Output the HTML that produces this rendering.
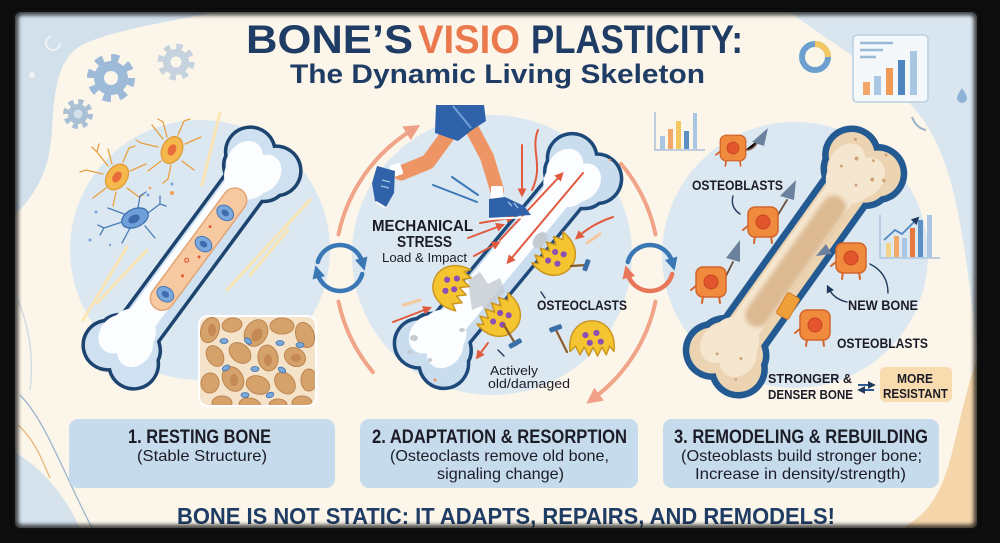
<!DOCTYPE html>
<html><head><meta charset="utf-8">
<style>
html,body{margin:0;padding:0;background:#0e0e0e;width:1000px;height:543px;overflow:hidden;}
svg{display:block;}
text{font-family:"Liberation Sans",Arial,sans-serif;}
</style></head><body>
<svg width="1000" height="543" viewBox="0 0 1000 543" xmlns="http://www.w3.org/2000/svg" xmlns:xlink="http://www.w3.org/1999/xlink">
<defs>
 <clipPath id="frame"><rect x="15" y="12" width="962" height="516" rx="6"/></clipPath>
 <clipPath id="inset"><rect x="200" y="317" width="115" height="88" rx="8"/></clipPath>
 <filter id="blur" x="-5%" y="-5%" width="110%" height="110%"><feGaussianBlur stdDeviation="2.5"/></filter>
 <filter id="soft" x="-20%" y="-20%" width="140%" height="140%"><feGaussianBlur stdDeviation="2"/></filter>
 <marker id="mRed" viewBox="0 0 10 10" refX="4" refY="5" markerWidth="9" markerHeight="9" markerUnits="userSpaceOnUse" orient="auto"><path d="M0,0 L10,5 L0,10 z" fill="#e25a3e"/></marker>
 <marker id="mOr" viewBox="0 0 10 10" refX="4" refY="5" markerWidth="16" markerHeight="16" markerUnits="userSpaceOnUse" orient="auto"><path d="M0,0 L10,5 L0,10 z" fill="#f0a088"/></marker>
 <marker id="mBlue" viewBox="0 0 10 10" refX="3" refY="5" markerWidth="13" markerHeight="13" markerUnits="userSpaceOnUse" orient="auto"><path d="M0,0 L10,5 L0,10 z" fill="#3a78b5"/></marker>
 <marker id="mOr2" viewBox="0 0 10 10" refX="3" refY="5" markerWidth="13" markerHeight="13" markerUnits="userSpaceOnUse" orient="auto"><path d="M0,0 L10,5 L0,10 z" fill="#e8775a"/></marker>
 <marker id="mNavy" viewBox="0 0 10 10" refX="4" refY="5" markerWidth="8" markerHeight="8" markerUnits="userSpaceOnUse" orient="auto"><path d="M0,0 L10,5 L0,10 z" fill="#1f3a5c"/></marker>
 <g id="boneS">
  <rect x="-112" y="-21" width="224" height="42"/>
  <ellipse cx="-106" cy="0" rx="24" ry="32"/>
  <ellipse cx="106" cy="0" rx="24" ry="32"/>
  <circle cx="-120" cy="-16" r="23"/>
  <circle cx="-120" cy="16" r="23"/>
  <circle cx="120" cy="-16" r="23"/>
  <circle cx="120" cy="16" r="23"/>
 </g>
 <g id="clast">
  <path d="M-20,6 C-22,-14 -10,-22 0,-22 C10,-22 22,-14 20,6 L16,1 L13,9 L9,2 L5,10 L1,2 L-3,10 L-7,2 L-11,9 L-15,1 Z" fill="#f4c431" stroke="#c9931f" stroke-width="1.3" stroke-linejoin="round"/>
  <circle cx="-6" cy="-9" r="2.8" fill="#8c4fb3"/>
  <circle cx="4" cy="-11" r="2.8" fill="#8c4fb3"/>
  <circle cx="-2" cy="-2" r="2.8" fill="#8c4fb3"/>
  <circle cx="8" cy="-3" r="2.8" fill="#8c4fb3"/>
 </g>
 <g id="blast">
  <path d="M-8,14 L-9,21 M8,14 L9,21 M-14,3 L-20,8" stroke="#d2652a" stroke-width="2" fill="none" stroke-linecap="round"/>
  <rect x="-15" y="-15" width="30" height="30" rx="7" fill="#f08a3d" stroke="#d2652a" stroke-width="1.5"/>
  <circle r="7" fill="#e3552d" stroke="#c74621" stroke-width="1"/>
 </g>
</defs>

<rect width="1000" height="543" fill="#0e0e0e"/>
<g clip-path="url(#frame)">
 <rect x="0" y="0" width="1000" height="543" fill="#fbf5ea"/>
 <!-- background blobs -->
 <path d="M15,12 H215 C170,22 110,30 80,46 C58,60 54,90 52,130 C50,165 40,190 15,215 Z" fill="#d2e0eb"/>
 <path d="M790,12 H977 V340 C966,270 962,190 932,134 C902,80 842,52 790,12 Z" fill="#dae6ef"/>
 <path d="M15,452 C40,468 62,490 80,528 H15 Z" fill="#d5e2ec"/>
 <path d="M977,360 C962,400 957,440 947,470 C937,500 925,515 903,528 H977 Z" fill="#f5d6ab"/>
 <path d="M20,395 C45,420 62,470 92,528" stroke="#9db6cc" stroke-width="1.3" fill="none"/>
 <path d="M18,425 C35,440 42,460 50,478" stroke="#e8b878" stroke-width="1.3" fill="none"/>
 <path d="M18,300 C30,330 34,360 30,390" stroke="#c9d7e3" stroke-width="1.2" fill="none"/>

 <!-- top-left decorations -->
 <circle cx="53" cy="43" r="7" fill="none" stroke="#eef3f7" stroke-width="2" stroke-dasharray="30 14"/>
 <circle cx="32" cy="75" r="3" fill="#eef3f7"/>
 <g fill="#9dbad8">
  <circle cx="111" cy="78" r="20" fill="none" stroke="#9dbad8" stroke-width="8" stroke-dasharray="7.8 7.9"/>
  <circle cx="111" cy="78" r="17"/>
  <circle cx="111" cy="78" r="7" fill="#fbf5ea"/>
 </g>
 <circle cx="176" cy="62" r="15" fill="none" stroke="#c6d3df" stroke-width="7" stroke-dasharray="6 5.8"/>
 <circle cx="176" cy="62" r="13" fill="#c6d3df"/>
 <circle cx="176" cy="62" r="5.5" fill="#fbf5ea"/>
 <circle cx="78" cy="114" r="12" fill="none" stroke="#aac0d4" stroke-width="6" stroke-dasharray="5 4.4"/>
 <circle cx="78" cy="114" r="10" fill="#aac0d4"/>
 <circle cx="78" cy="114" r="4.5" fill="#d2e0eb"/>

 <!-- top-right decorations -->
 <circle cx="815" cy="57" r="13" fill="none" stroke="#6da0cf" stroke-width="6"/>
 <path d="M815,44 A13,13 0 0,1 828,57" fill="none" stroke="#f3c863" stroke-width="6"/>
 <rect x="853" y="35" width="75" height="67" rx="4" fill="#f4f8fb" stroke="#b9cfe2" stroke-width="1.5"/>
 <path d="M860,43 H893 M860,50 H883 M860,57 H876" stroke="#9bbad6" stroke-width="2.5"/>
 <rect x="863" y="82" width="7" height="13" fill="#f2a766"/>
 <rect x="874" y="76" width="7" height="19" fill="#a9c6e2"/>
 <rect x="886" y="68" width="7" height="27" fill="#f09a55"/>
 <rect x="898" y="60" width="7" height="35" fill="#4f86bf"/>
 <rect x="910" y="51" width="7" height="44" fill="#a9c6e2"/>
 <path d="M962,88 C965,93 967,95 967,98 A5,5 0 0,1 957,98 C957,95 959,93 962,88 Z" fill="#8fb3d6"/>
 <path d="M912,117 C915,125 920,129 926,130" stroke="#9bb2c8" stroke-width="2" fill="none"/>

 <!-- panel circles -->
 <circle cx="200" cy="250" r="130" fill="#dce8f1"/>
 <circle cx="492" cy="255" r="140" fill="#dce8f1"/>
 <circle cx="795" cy="255" r="133" fill="#dce8f1"/>

 <!-- ============ PANEL 1 ============ -->
 <g stroke="#fde5ad" stroke-width="3" stroke-linecap="round" opacity="0.9">
  <path d="M220,113 L202,185"/>
  <path d="M127,247 L83,320"/>
  <path d="M147,250 L97,303"/>
  <path d="M310,200 L227,290"/>
  <path d="M288,230 L250,275"/>
 </g>
 <!-- cells -->
 <g stroke="#e8a040" stroke-width="1.3" fill="none" stroke-linecap="round">
  <path d="M108,166 L97,152 L92,147 M97,152 L99,144 M103,174 L86,170 L80,172 M106,188 L93,198 M116,192 L113,206 M127,188 L139,197 L143,195 M130,171 L146,164 M123,162 L129,148 L135,146 M112,164 L108,149"/>
  <path d="M163,139 L152,125 M158,147 L141,143 L136,140 M161,161 L148,171 M171,165 L168,179 L163,183 M182,161 L194,170 M185,144 L201,137 M178,135 L184,121 L190,119 M167,137 L163,122 L158,119"/>
 </g>
 <ellipse cx="117" cy="177" rx="10" ry="14" transform="rotate(35 117 177)" fill="#f5b84c" stroke="#e09a38" stroke-width="1.3"/>
 <ellipse cx="117" cy="177" rx="4" ry="6" transform="rotate(35 117 177)" fill="#e96d3a"/>
 <ellipse cx="172" cy="150" rx="10" ry="14" transform="rotate(25 172 150)" fill="#f5b84c" stroke="#e09a38" stroke-width="1.3"/>
 <ellipse cx="172" cy="150" rx="4" ry="6" transform="rotate(25 172 150)" fill="#e96d3a"/>
 <g stroke="#4a7cb8" stroke-width="1.3" fill="none" stroke-linecap="round">
  <path d="M122,222 L104,228 L98,225 M104,228 L100,235 M124,214 L108,208 M130,228 L122,243 M145,226 L155,238 M148,213 L160,204 L166,206 M160,204 L160,196 M138,208 L140,196 L146,192"/>
 </g>
 <ellipse cx="135" cy="218" rx="14" ry="9" transform="rotate(-25 135 218)" fill="#6f9fd8" stroke="#3e70b0" stroke-width="1.3"/>
 <ellipse cx="134" cy="219" rx="6" ry="4" transform="rotate(-25 134 219)" fill="#3b68a8"/>
 <g fill="#7aa6d8">
  <circle cx="96" cy="212" r="1.5"/><circle cx="90" cy="240" r="1.5"/><circle cx="148" cy="195" r="1.5"/><circle cx="172" cy="184" r="1.5"/><circle cx="110" cy="245" r="1.2"/>
 </g>
 <g fill="#f0a050"><circle cx="172" cy="193" r="2"/><circle cx="150" cy="188" r="1.3"/></g>
 <!-- bone 1 -->
 <g transform="translate(192,258) rotate(-53.6)">
  <use xlink:href="#boneS" href="#boneS" fill="#1d446f" stroke="#1d446f" stroke-width="7"/>
  <use xlink:href="#boneS" href="#boneS" fill="#cfe0f0"/>
  <use xlink:href="#boneS" href="#boneS" fill="#fbfdff" transform="translate(2,-4) scale(0.9,0.72)"/>
  <rect x="-62" y="-12" width="146" height="24" rx="12" fill="#f6c9a0" stroke="#e3a676" stroke-width="1.5"/>
  <ellipse cx="56" cy="0" rx="7" ry="9" fill="#7aa8dc" stroke="#4677b5" stroke-width="1"/>
  <ellipse cx="56" cy="0" rx="3" ry="4" fill="#3f6cae"/>
  <ellipse cx="18" cy="1" rx="7" ry="9" fill="#7aa8dc" stroke="#4677b5" stroke-width="1"/>
  <ellipse cx="18" cy="1" rx="3" ry="4" fill="#3f6cae"/>
  <ellipse cx="-45" cy="0" rx="7" ry="9" fill="#7aa8dc" stroke="#4677b5" stroke-width="1"/>
  <ellipse cx="-45" cy="0" rx="3" ry="4" fill="#3f6cae"/>
  <circle cx="-5" cy="-3" r="2" fill="none" stroke="#e05a3a" stroke-width="1.2"/>
  <circle cx="-20" cy="3" r="1.5" fill="#e05a3a"/>
  <circle cx="5" cy="5" r="1.5" fill="#e05a3a"/>
  <circle cx="36" cy="-4" r="1.5" fill="#e05a3a"/>
 </g>
 <!-- trabecular inset -->
 <rect x="198" y="315" width="119" height="92" rx="10" fill="#ffffff"/>
 <g clip-path="url(#inset)">
  <rect x="200" y="317" width="115" height="88" fill="#f5e3c9"/>
  <g fill="#d6a26b" stroke="#bd8550" stroke-width="1">
   <ellipse cx="210" cy="330" rx="9" ry="13" transform="rotate(20 210 330)"/>
   <ellipse cx="232" cy="325" rx="10" ry="7" transform="rotate(-10 232 325)"/>
   <ellipse cx="256" cy="333" rx="11" ry="14" transform="rotate(30 256 333)"/>
   <ellipse cx="282" cy="326" rx="12" ry="8"/>
   <ellipse cx="305" cy="335" rx="9" ry="13" transform="rotate(-20 305 335)"/>
   <ellipse cx="215" cy="356" rx="8" ry="11" transform="rotate(-30 215 356)"/>
   <ellipse cx="240" cy="353" rx="12" ry="9" transform="rotate(40 240 353)"/>
   <ellipse cx="268" cy="358" rx="10" ry="13" transform="rotate(-10 268 358)"/>
   <ellipse cx="295" cy="357" rx="11" ry="9" transform="rotate(30 295 357)"/>
   <ellipse cx="210" cy="383" rx="9" ry="10" transform="rotate(10 210 383)"/>
   <ellipse cx="233" cy="379" rx="10" ry="13" transform="rotate(-30 233 379)"/>
   <ellipse cx="258" cy="385" rx="12" ry="9" transform="rotate(20 258 385)"/>
   <ellipse cx="285" cy="383" rx="9" ry="12" transform="rotate(-40 285 383)"/>
   <ellipse cx="309" cy="380" rx="8" ry="11"/>
   <ellipse cx="222" cy="403" rx="10" ry="7"/>
   <ellipse cx="250" cy="405" rx="11" ry="7" transform="rotate(10 250 405)"/>
   <ellipse cx="278" cy="405" rx="9" ry="6"/>
   <ellipse cx="302" cy="403" rx="10" ry="7"/>
  </g>
  <g fill="#b97a45" opacity="0.6">
   <ellipse cx="257" cy="335" rx="5" ry="7" transform="rotate(30 257 335)"/>
   <ellipse cx="268" cy="360" rx="4" ry="6"/>
   <ellipse cx="234" cy="380" rx="4" ry="6"/>
   <ellipse cx="296" cy="358" rx="5" ry="4"/>
   <ellipse cx="212" cy="330" rx="4" ry="6"/>
  </g>
  <g fill="#7aa8d8" stroke="#3f6fb0" stroke-width="0.8">
   <ellipse cx="224" cy="341" rx="4" ry="2.5"/><ellipse cx="248" cy="341" rx="4" ry="2.5" transform="rotate(40 248 341)"/>
   <ellipse cx="280" cy="343" rx="4" ry="2.5"/><ellipse cx="226" cy="368" rx="4" ry="2.5" transform="rotate(-30 226 368)"/>
   <ellipse cx="255" cy="369" rx="4" ry="2.5"/><ellipse cx="282" cy="370" rx="4" ry="2.5" transform="rotate(30 282 370)"/>
   <ellipse cx="300" cy="345" rx="4" ry="2.5"/><ellipse cx="245" cy="395" rx="4" ry="2.5"/>
   <ellipse cx="270" cy="395" rx="4" ry="2.5" transform="rotate(-20 270 395)"/>
  </g>
 </g>

 <!-- ============ PANEL 2 ============ -->
 <g fill="none" stroke="#f0a488" stroke-width="4" stroke-linecap="round">
  <path d="M372.9,372.1 A162,162 0 0 1 338.5,301.7"/>
  <path d="M338.5,234.3 A162,162 0 0 1 412,130" marker-end="url(#mOr)"/>
  <path d="M621.1,163.9 A162,162 0 0 1 655.5,234.3"/>
  <path d="M655.5,301.7 A162,162 0 0 1 594,398" marker-end="url(#mOr)"/>
 </g>
 <!-- bone 2 -->
 <g transform="translate(508,261) rotate(-50.4)">
  <use xlink:href="#boneS" href="#boneS" fill="#1d4a7a" stroke="#1d4a7a" stroke-width="7"/>
  <use xlink:href="#boneS" href="#boneS" fill="#c9ddef"/>
  <use xlink:href="#boneS" href="#boneS" fill="#fbfdff" transform="translate(0,-4) scale(0.9,0.72)"/>
 </g>
 <!-- damage -->
 <g fill="#c5cbd2">
  <path d="M468,280 L480,272 L488,284 L500,278 L505,292 L496,300 L500,312 L488,318 L482,306 L472,310 L470,296 Z" opacity="0.8"/>
  <ellipse cx="540" cy="240" rx="9" ry="6" transform="rotate(-50 540 240)"/>
  <ellipse cx="414" cy="338" rx="4" ry="3"/>
  <ellipse cx="410" cy="352" rx="3" ry="2"/>
  <ellipse cx="430" cy="360" rx="2" ry="2"/>
  <ellipse cx="462" cy="330" rx="3" ry="2"/>
 </g>
 <g fill="#e8935a"><circle cx="435" cy="380" r="1.5"/><circle cx="610" cy="160" r="1.2"/></g>
 <!-- osteoclasts -->
 <use xlink:href="#clast" href="#clast" transform="translate(457,288) rotate(-70) scale(1.1)"/>
 <use xlink:href="#clast" href="#clast" transform="translate(552,252) rotate(135) scale(1.1)"/>
 <use xlink:href="#clast" href="#clast" transform="translate(497,313) rotate(135) scale(1.1)"/>
 <use xlink:href="#clast" href="#clast" transform="translate(592,345) scale(1.1)"/>
 <!-- hammers -->
 <g stroke="#8a5a2a" stroke-width="2.2" stroke-linecap="round">
  <path d="M504,325 L516,345"/>
  <path d="M567,352 L556,330"/>
  <path d="M571,266 L587,265"/>
 </g>
 <g fill="#3a6fa8">
  <rect x="508" y="341" width="14" height="5" rx="1.5" transform="rotate(-30 515 343)"/>
  <rect x="549" y="326" width="13" height="5" rx="1.5" transform="rotate(-20 555 328)"/>
  <rect x="584" y="259" width="5" height="12" rx="1.5" transform="rotate(20 586 265)"/>
 </g>
 <!-- red arrows -->
 <g fill="none" stroke="#e25a3e" stroke-width="2" stroke-linecap="round">
  <path d="M522,145 L522,192" marker-end="url(#mRed)"/>
  <path d="M538,130 C530,150 544,165 532,190"/>
  <path d="M500,240 L560,176" marker-end="url(#mRed)"/>
  <path d="M583,173 L510,260" marker-end="url(#mRed)"/>
  <path d="M480,223 L510,218" marker-end="url(#mRed)"/>
  <path d="M468,238 L500,226" marker-end="url(#mRed)"/>
  <path d="M474,256 L496,244" marker-end="url(#mRed)"/>
  <path d="M393,322 L427,309" marker-end="url(#mRed)"/>
  <path d="M488,343 L479,355" marker-end="url(#mRed)"/>
  <path d="M613,217 C598,222 588,228 579,236" marker-end="url(#mRed)"/>
 </g>
 <g stroke="#f4c8a0" stroke-width="3" stroke-linecap="round"><path d="M587,243 L600,234"/><path d="M403,305 L420,300"/></g>
 <!-- runner -->
 <g>
  <path d="M447,136 L428,162 L401,173" fill="none" stroke="#ee9566" stroke-width="15" stroke-linecap="round" stroke-linejoin="round"/>
  <path d="M470,125 L487,157 L497,190" fill="none" stroke="#ee9566" stroke-width="14" stroke-linecap="round" stroke-linejoin="round"/>
  <path d="M436,105 L484,105 L486,121 L472,130 L458,141 L435,133 Z" fill="#2f62a8"/>
  <path d="M453,106 L471,128" stroke="#6ea0d6" stroke-width="2"/>
  <rect x="391" y="164" width="11" height="12" rx="2" fill="#ffffff" transform="rotate(-20 396 170)"/>
  <path d="M377,166 L395,171 L394,193 L386,207 L375,201 L372,183 Z" fill="#2f62a8"/>
  <path d="M376,202 L386,208" stroke="#ffffff" stroke-width="2"/>
  <path d="M382,180 L390,182 M381,186 L389,188" stroke="#a8c6e8" stroke-width="1.3"/>
  <rect x="491" y="186" width="12" height="13" rx="2" fill="#ffffff"/>
  <path d="M489,199 L505,197 L524,206 L531,215 L489,218 Z" fill="#2f62a8"/>
  <path d="M489,219 L531,217" stroke="#ffffff" stroke-width="2"/>
  <path d="M508,202 L512,206 M514,203 L518,208" stroke="#a8c6e8" stroke-width="1.3"/>
  <path d="M433,185 L477,202 M452,177 L478,195" stroke="#3b78b8" stroke-width="2" stroke-linecap="round"/>
 </g>

 <!-- cycle icons -->
 <g fill="none" stroke-width="4.5" stroke-linecap="round">
  <path d="M317.8,262 A23,23 0 0 1 362.2,262" stroke="#3a78b5" marker-end="url(#mBlue)"/>
  <path d="M362.2,274 A23,23 0 0 1 317.8,274" stroke="#3a78b5" marker-end="url(#mBlue)"/>
  <path d="M627.8,262 A23,23 0 0 1 672.2,262" stroke="#3a78b5" marker-end="url(#mBlue)"/>
  <path d="M672.2,274 A23,23 0 0 1 627.8,274" stroke="#e8775a" marker-end="url(#mOr2)"/>
 </g>

 <!-- ============ PANEL 3 ============ -->
 <path d="M655,112 V150 H705" stroke="#a9c2da" stroke-width="1.5" fill="none"/>
 <rect x="660" y="136" width="5" height="13" fill="#a9c6e2"/>
 <rect x="668" y="129" width="5" height="20" fill="#f3a86a"/>
 <rect x="676" y="121" width="5" height="28" fill="#f3c863"/>
 <rect x="684" y="131" width="5" height="18" fill="#5b8fc6"/>
 <rect x="693" y="113" width="4" height="36" fill="#a9c6e2"/>
 <!-- bone 3 -->
 <g transform="translate(795,262) rotate(-54.5)">
  <use xlink:href="#boneS" href="#boneS" fill="#245a92" stroke="#245a92" stroke-width="13"/>
  <use xlink:href="#boneS" href="#boneS" fill="#ecd4b3"/>
  <use xlink:href="#boneS" href="#boneS" fill="#f5e6d0" transform="translate(0,-3) scale(0.92,0.75)"/>
  <rect x="-77" y="-12" width="156" height="24" rx="12" fill="#d8b287" opacity="0.85" filter="url(#soft)"/>
  <g fill="#cfa47a">
   <circle cx="120" cy="-10" r="2"/><circle cx="128" cy="5" r="1.5"/><circle cx="112" cy="15" r="2"/><circle cx="135" cy="-22" r="1.5"/>
   <circle cx="105" cy="-18" r="1.5"/><circle cx="118" cy="25" r="1.8"/><circle cx="140" cy="12" r="1.5"/><circle cx="98" cy="5" r="1.5"/>
   <circle cx="-120" cy="-10" r="1.5"/><circle cx="-110" cy="12" r="1.5"/><circle cx="-130" cy="20" r="1.3"/>
  </g>
 </g>
 <!-- right chart -->
 <path d="M880,215 V258 H940" stroke="#a9c2da" stroke-width="1.5" fill="none"/>
 <rect x="886" y="243" width="5" height="14" fill="#f3d58a"/>
 <rect x="894" y="236" width="5" height="21" fill="#f3a86a"/>
 <rect x="902" y="238" width="5" height="19" fill="#a9c6e2"/>
 <rect x="910" y="228" width="5" height="29" fill="#e8773f"/>
 <rect x="918" y="220" width="5" height="37" fill="#5b8fc6"/>
 <rect x="927" y="215" width="5" height="42" fill="#a9c6e2"/>
 <path d="M884,240 L895,230 L902,234 L916,220" stroke="#4f86bf" stroke-width="1.8" fill="none" marker-end="url(#mNavy)"/>
 <!-- osteoblasts -->
 <g stroke="#6b5040" stroke-width="1.8" stroke-linecap="round">
  <path d="M745,150 C752,150 756,146 758,140"/>
  <path d="M776,218 L787,200"/>
  <path d="M724,280 L733,262"/>
 </g>
 <g fill="#6b819e">
  <polygon points="752,142 768,128 764,146"/>
  <polygon points="780,196 796,180 794,200"/>
  <polygon points="726,258 740,240 740,262"/>
  <polygon points="832,254 816,256 826,244"/>
 </g>
 <use xlink:href="#blast" href="#blast" transform="translate(733,148) scale(0.85)"/>
 <use xlink:href="#blast" href="#blast" transform="translate(763,222)"/>
 <use xlink:href="#blast" href="#blast" transform="translate(711,282)"/>
 <use xlink:href="#blast" href="#blast" transform="translate(851,258)"/>
 <rect x="781" y="294" width="14" height="24" rx="2" fill="#f0a03a" stroke="#d27a20" stroke-width="1" transform="rotate(30 788 306)"/>
 <use xlink:href="#blast" href="#blast" transform="translate(815,325)"/>
 <!-- pointers -->
 <g fill="none" stroke="#1f3a5c" stroke-width="1.4" stroke-linecap="round">
  <path d="M733,196 C731,204 734,210 740,214"/>
  <path d="M870,264 C882,270 888,280 888,293"/>
  <path d="M847,302 C838,300 832,295 829,289" marker-end="url(#mNavy)"/>
  <path d="M498,350 L504,356"/>
  <path d="M545,298 L541,292"/>
 </g>
 <!-- MORE RESISTANT box -->
 <rect x="880" y="367" width="72" height="35" rx="5" fill="#f8dcb0"/>
 <path d="M858,385 H871" stroke="#2a5a90" stroke-width="2" marker-end="url(#mNavy)"/>
 <path d="M874,390 H862" stroke="#2a5a90" stroke-width="2" marker-end="url(#mNavy)"/>

 <!-- ============ TEXT ============ -->
 <g font-weight="bold" font-size="40">
  <text x="246" y="53" fill="#1e3c64" textLength="167" lengthAdjust="spacingAndGlyphs">BONE’S</text>
  <text x="418" y="53" fill="#ea7a4e" textLength="102" lengthAdjust="spacingAndGlyphs">VISIO</text>
  <text x="531" y="53" fill="#1e3c64" textLength="212" lengthAdjust="spacingAndGlyphs">PLASTICITY:</text>
 </g>
 <text x="290" y="83" font-size="27" font-weight="bold" fill="#1e3c64" textLength="415" lengthAdjust="spacingAndGlyphs">The Dynamic Living Skeleton</text>

 <g fill="#1c1c28">
  <text x="372" y="231" font-size="16" font-weight="bold" textLength="101" lengthAdjust="spacingAndGlyphs">MECHANICAL</text>
  <text x="397" y="247" font-size="16" font-weight="bold" textLength="55" lengthAdjust="spacingAndGlyphs">STRESS</text>
  <text x="382" y="262" font-size="13" textLength="85" lengthAdjust="spacingAndGlyphs">Load &amp; Impact</text>
  <text x="537" y="310" font-size="14" font-weight="bold" textLength="90" lengthAdjust="spacingAndGlyphs">OSTEOCLASTS</text>
  <text x="490" y="375" font-size="13" textLength="48" lengthAdjust="spacingAndGlyphs">Actively</text>
  <text x="488" y="388" font-size="13" textLength="82" lengthAdjust="spacingAndGlyphs">old/damaged</text>
  <text x="692" y="190" font-size="14" font-weight="bold" textLength="91" lengthAdjust="spacingAndGlyphs">OSTEOBLASTS</text>
  <text x="848" y="310" font-size="14" font-weight="bold" textLength="70" lengthAdjust="spacingAndGlyphs">NEW BONE</text>
  <text x="837" y="348" font-size="14" font-weight="bold" textLength="91" lengthAdjust="spacingAndGlyphs">OSTEOBLASTS</text>
  <text x="768" y="383" font-size="13" font-weight="bold" textLength="84" lengthAdjust="spacingAndGlyphs">STRONGER &amp;</text>
  <text x="768" y="399" font-size="13" font-weight="bold" textLength="85" lengthAdjust="spacingAndGlyphs">DENSER BONE</text>
  <text x="897" y="383" font-size="13" font-weight="bold" textLength="36" lengthAdjust="spacingAndGlyphs">MORE</text>
  <text x="883" y="398" font-size="13" font-weight="bold" textLength="65" lengthAdjust="spacingAndGlyphs">RESISTANT</text>
 </g>

 <!-- label boxes -->
 <rect x="69" y="419" width="266" height="69" rx="9" fill="#c6dbeb"/>
 <rect x="360" y="419" width="278" height="69" rx="9" fill="#c6dbeb"/>
 <rect x="663" y="419" width="276" height="69" rx="9" fill="#c6dbeb"/>
 <g fill="#1c1c28">
  <text x="128" y="443" font-size="19" font-weight="bold" textLength="143" lengthAdjust="spacingAndGlyphs">1. RESTING BONE</text>
  <text x="137" y="461" font-size="16" textLength="130" lengthAdjust="spacingAndGlyphs">(Stable Structure)</text>
  <text x="372" y="443" font-size="19" font-weight="bold" textLength="255" lengthAdjust="spacingAndGlyphs">2. ADAPTATION &amp; RESORPTION</text>
  <text x="390" y="461" font-size="16" textLength="219" lengthAdjust="spacingAndGlyphs">(Osteoclasts remove old bone,</text>
  <text x="437" y="479" font-size="16" textLength="127" lengthAdjust="spacingAndGlyphs">signaling change)</text>
  <text x="674" y="443" font-size="19" font-weight="bold" textLength="254" lengthAdjust="spacingAndGlyphs">3. REMODELING &amp; REBUILDING</text>
  <text x="681" y="461" font-size="16" textLength="241" lengthAdjust="spacingAndGlyphs">(Osteoblasts build stronger bone;</text>
  <text x="695" y="479" font-size="16" textLength="211" lengthAdjust="spacingAndGlyphs">Increase in density/strength)</text>
 </g>
 <text x="177" y="524" font-size="23" font-weight="bold" fill="#1e3c64" textLength="658" lengthAdjust="spacingAndGlyphs">BONE IS NOT STATIC: IT ADAPTS, REPAIRS, AND REMODELS!</text>
</g>
<rect x="15" y="12" width="962" height="516" rx="6" fill="none" stroke="#0e0e0e" stroke-width="5" filter="url(#blur)"/>
</svg>
</body></html>
